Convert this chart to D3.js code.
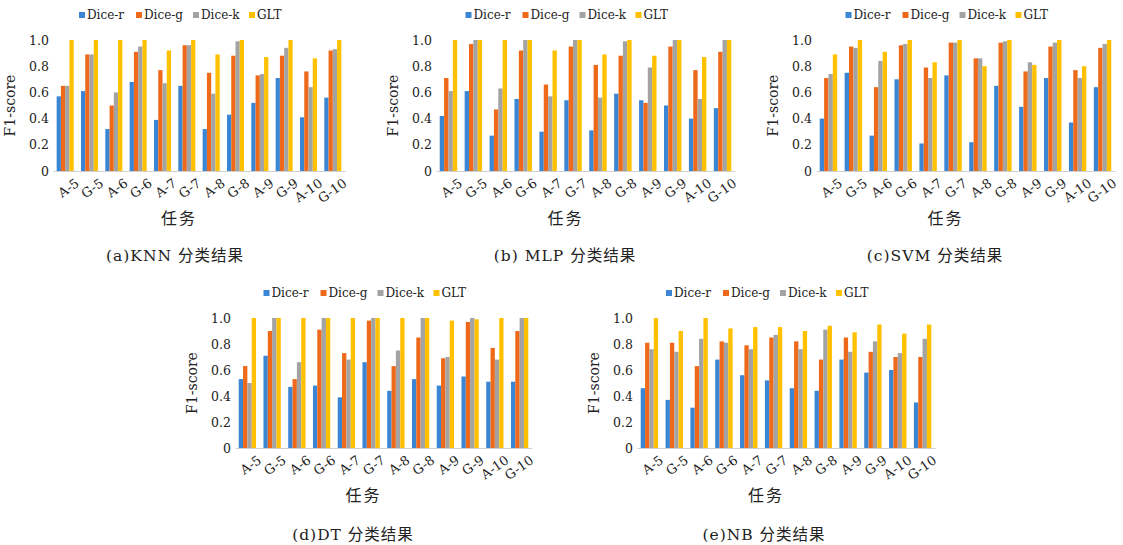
<!DOCTYPE html>
<html lang="zh">
<head>
<meta charset="UTF-8">
<title>分类结果</title>
<script src="https://d3js.org/d3.v7.min.js"></script>
<style>
    body { margin: 0; background: #fff; }
    svg text { font-family: "DejaVu Serif", "Noto Sans CJK SC", serif; fill: #222; }
</style>
</head>
<body>
<div id="chart"></div>
<script>
    const tasks = ["A-5", "G-5", "A-6", "G-6", "A-7", "G-7", "A-8", "G-8", "A-9", "G-9", "A-10", "G-10"];
    const seriesNames = ["Dice-r", "Dice-g", "Dice-k", "GLT"];
    const yTicks = [0, 0.2, 0.4, 0.6, 0.8, 1.0];

    // KNN
    const knnDiceR = [0.57, 0.61, 0.32, 0.68, 0.39, 0.65, 0.32, 0.43, 0.52, 0.71, 0.41, 0.56];
    const knnDiceG = [0.65, 0.89, 0.50, 0.91, 0.77, 0.96, 0.75, 0.88, 0.73, 0.88, 0.76, 0.92];
    const knnDiceK = [0.65, 0.89, 0.60, 0.95, 0.67, 0.96, 0.59, 0.99, 0.74, 0.94, 0.64, 0.93];
    const knnGlt   = [1.00, 1.00, 1.00, 1.00, 0.92, 1.00, 0.89, 1.00, 0.87, 1.00, 0.86, 1.00];
    // MLP
    const mlpDiceR = [0.42, 0.61, 0.27, 0.55, 0.30, 0.54, 0.31, 0.59, 0.54, 0.50, 0.40, 0.48];
    const mlpDiceG = [0.71, 0.97, 0.47, 0.92, 0.66, 0.95, 0.81, 0.88, 0.52, 0.95, 0.77, 0.91];
    const mlpDiceK = [0.61, 1.00, 0.63, 1.00, 0.57, 1.00, 0.56, 0.99, 0.79, 1.00, 0.55, 1.00];
    const mlpGlt   = [1.00, 1.00, 1.00, 1.00, 0.92, 1.00, 0.89, 1.00, 0.88, 1.00, 0.87, 1.00];
    // SVM
    const svmDiceR = [0.40, 0.75, 0.27, 0.70, 0.21, 0.73, 0.22, 0.65, 0.49, 0.71, 0.37, 0.64];
    const svmDiceG = [0.71, 0.95, 0.64, 0.96, 0.79, 0.98, 0.86, 0.98, 0.76, 0.95, 0.77, 0.94];
    const svmDiceK = [0.74, 0.94, 0.84, 0.97, 0.71, 0.98, 0.86, 0.99, 0.83, 0.98, 0.71, 0.97];
    const svmGlt   = [0.89, 1.00, 0.91, 1.00, 0.83, 1.00, 0.80, 1.00, 0.81, 1.00, 0.80, 1.00];
    // DT
    const dtDiceR = [0.53, 0.71, 0.47, 0.48, 0.39, 0.66, 0.44, 0.53, 0.48, 0.55, 0.51, 0.51];
    const dtDiceG = [0.63, 0.90, 0.53, 0.91, 0.73, 0.98, 0.63, 0.85, 0.69, 0.97, 0.77, 0.90];
    const dtDiceK = [0.50, 1.00, 0.66, 1.00, 0.68, 1.00, 0.75, 1.00, 0.70, 1.00, 0.68, 1.00];
    const dtGlt   = [1.00, 1.00, 1.00, 1.00, 1.00, 1.00, 1.00, 1.00, 0.98, 0.99, 1.00, 1.00];
    // NB
    const nbDiceR = [0.46, 0.37, 0.31, 0.68, 0.56, 0.52, 0.46, 0.44, 0.68, 0.58, 0.60, 0.35];
    const nbDiceG = [0.81, 0.81, 0.63, 0.82, 0.79, 0.85, 0.82, 0.68, 0.85, 0.74, 0.70, 0.70];
    const nbDiceK = [0.76, 0.74, 0.84, 0.81, 0.76, 0.87, 0.76, 0.91, 0.74, 0.82, 0.73, 0.84];
    const nbGlt   = [1.00, 0.90, 1.00, 0.92, 0.93, 0.93, 0.90, 0.94, 0.89, 0.95, 0.88, 0.95];

    const colors = ["#3b86d4", "#ee6a1a", "#a3a3a3", "#ffc000"];

    const panels = [
        { caption: "(a)KNN 分类结果", data: [knnDiceR, knnDiceG, knnDiceK, knnGlt], x0: 53, x1: 345, yTop: 40, yBase: 171, capX: 175, capY: 261 },
        { caption: "(b) MLP 分类结果", data: [mlpDiceR, mlpDiceG, mlpDiceK, mlpGlt], x0: 436, x1: 735, yTop: 40, yBase: 171, capX: 565, capY: 261 },
        { caption: "(c)SVM 分类结果", data: [svmDiceR, svmDiceG, svmDiceK, svmGlt], x0: 816, x1: 1115, yTop: 40, yBase: 171, capX: 935, capY: 261 },
        { caption: "(d)DT 分类结果", data: [dtDiceR, dtDiceG, dtDiceK, dtGlt], x0: 235, x1: 532, yTop: 318, yBase: 448, capX: 353, capY: 540 },
        { caption: "(e)NB 分类结果", data: [nbDiceR, nbDiceG, nbDiceK, nbGlt], x0: 637, x1: 935, yTop: 318, yBase: 448, capX: 764, capY: 540 }
    ];

    const svg = d3.select("#chart").append("svg")
        .attr("width", 1123)
        .attr("height", 545);

    panels.forEach(p => {
        const g = svg.append("g");

        const x = d3.scaleBand().domain(tasks).range([p.x0, p.x1]).paddingInner(0.3).paddingOuter(0.15);
        const xs = d3.scaleBand().domain(seriesNames).range([0, x.bandwidth()]);
        const y = d3.scaleLinear().domain([0, 1]).range([p.yBase, p.yTop]);

        // bars
        seriesNames.forEach((s, si) => {
            g.selectAll(".bar-" + si)
                .data(p.data[si])
                .join("rect")
                .attr("x", (d, i) => x(tasks[i]) + xs(s))
                .attr("y", d => y(d))
                .attr("width", xs.bandwidth())
                .attr("height", d => y(0) - y(d))
                .attr("fill", colors[si]);
        });

        // y axis (labels only)
        const yAxis = g.append("g")
            .attr("transform", `translate(${p.x0},0)`)
            .call(d3.axisLeft(y).tickValues(yTicks).tickSize(0).tickPadding(4)
                .tickFormat(d => d === 0 ? "0" : d3.format(".1f")(d)));
        yAxis.select(".domain").remove();
        yAxis.selectAll("text").attr("font-size", 12.5).attr("font-family", "DejaVu Serif");

        // x axis
        const xAxis = g.append("g")
            .attr("transform", `translate(0,${p.yBase})`)
            .call(d3.axisBottom(x).tickSize(0).tickPadding(6).tickSizeOuter(0));
        xAxis.select(".domain").attr("stroke", "#d0d0d0");
        xAxis.selectAll("text")
            .attr("font-size", 13)
            .attr("font-family", "DejaVu Serif")
            .attr("text-anchor", "end")
            .attr("dy", "0.6em")
            .attr("transform", "translate(7,3) rotate(-35)");

        const cx = (p.x0 + p.x1) / 2 - 20;

        // y label
        g.append("text")
            .attr("transform", `translate(${p.x0 - 38},${(p.yTop + p.yBase) / 2}) rotate(-90)`)
            .attr("text-anchor", "middle")
            .attr("font-size", 14)
            .text("F1-score");

        // x title
        g.append("text")
            .attr("x", cx)
            .attr("y", p.yBase + 53)
            .attr("text-anchor", "middle")
            .attr("font-size", 16)
            .attr("letter-spacing", 2)
            .attr("font-family", "Noto Sans CJK SC")
            .text("任务");

        // legend
        const leg = g.append("g").attr("transform", `translate(${cx - 100},${p.yTop - 25})`);
        const itemW = [57, 57, 56, 40];
        let lx = 0;
        seriesNames.forEach((s, si) => {
            leg.append("rect").attr("x", lx).attr("y", -3).attr("width", 6).attr("height", 6).attr("fill", colors[si]);
            leg.append("text").attr("x", lx + 8).attr("y", 0).attr("dy", "0.35em")
                .attr("font-size", 12).text(s);
            lx += itemW[si];
        });

        // caption
        g.append("text")
            .attr("x", p.capX)
            .attr("y", p.capY)
            .attr("text-anchor", "middle")
            .attr("font-size", 15.5)
            .attr("letter-spacing", 1)
            .text(p.caption);
    });
</script>
</body>
</html>
